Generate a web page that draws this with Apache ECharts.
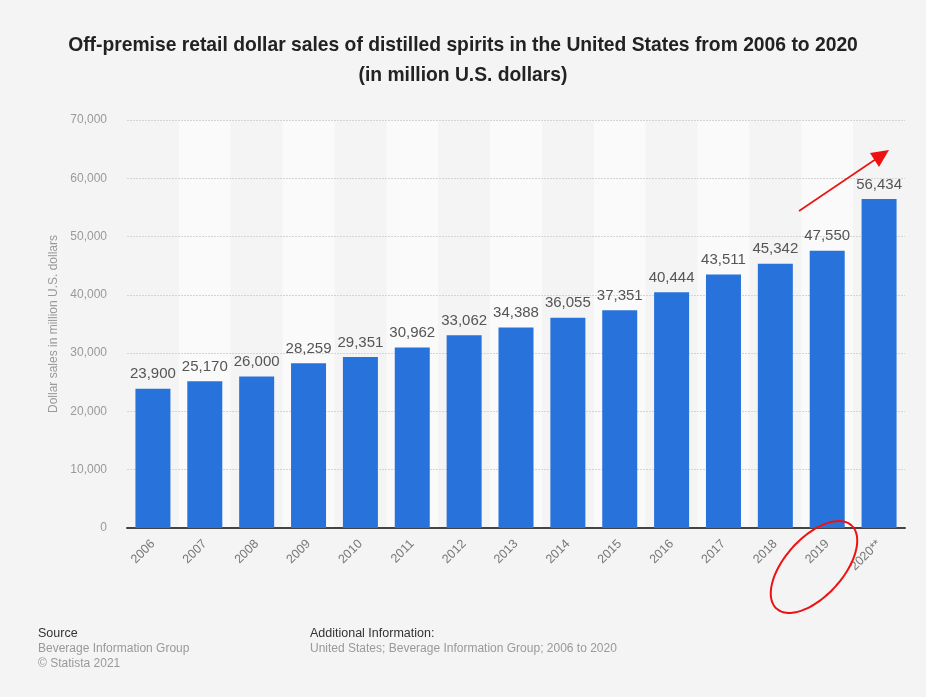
<!DOCTYPE html>
<html>
<head>
<meta charset="utf-8">
<title>Off-premise retail dollar sales of distilled spirits</title>
<script src="https://cdn.jsdelivr.net/npm/echarts@6/dist/echarts.min.js"></script>
<style>
  html, body { margin: 0; padding: 0; background: #f4f4f4; }
  #chart { width: 926px; height: 697px; }
</style>
</head>
<body>
<div id="chart"></div>
<script>
// Years on the category axis
const years = ['2006', '2007', '2008', '2009', '2010', '2011', '2012', '2013',
               '2014', '2015', '2016', '2017', '2018', '2019', '2020**'];
// Off-premise retail dollar sales, million U.S. dollars
const sales = [23900, 25170, 26000, 28259, 29351, 30962, 33062, 34388,
               36055, 37351, 40444, 43511, 45342, 47550, 56434];
// Value axis ticks
const yTicks = [0, 10000, 20000, 30000, 40000, 50000, 60000, 70000];

const fmt = v => v.toLocaleString('en-US');
const FONT = '"Liberation Sans", Arial, Helvetica, sans-serif';

// Outline points for the hand-drawn style ring around the 2019 label
function ringPoints(cx, cy, a, b, angleDeg) {
  const pts = [];
  const t = angleDeg * Math.PI / 180;
  for (let i = 0; i <= 72; i++) {
    const s = i / 72 * Math.PI * 2;
    const u = a * Math.cos(s), v = b * Math.sin(s);
    pts.push([cx + u * Math.cos(t) - v * Math.sin(t), cy + u * Math.sin(t) + v * Math.cos(t)]);
  }
  return pts;
}

const chart = echarts.init(document.getElementById('chart'), null, { renderer: 'canvas' });

chart.setOption({
  backgroundColor: '#f4f4f4',
  animation: false,
  textStyle: { fontFamily: FONT },
  title: {
    text: 'Off-premise retail dollar sales of distilled spirits in the United States from 2006 to 2020\n(in million U.S. dollars)',
    left: 'center',
    top: 26,
    textStyle: { fontSize: 19.3, fontWeight: 'bold', color: '#222', lineHeight: 30, fontFamily: FONT }
  },
  grid: { left: 127, right: 21, top: 120, bottom: 169, containLabel: false },
  xAxis: {
    type: 'category',
    data: years,
    z: 0,
    axisLine: { show: true, lineStyle: { color: '#444', width: 2 } },
    axisTick: { show: false },
    axisLabel: { rotate: 45, color: '#777', fontSize: 12.5, margin: 14, fontFamily: FONT },
    splitArea: { show: true, areaStyle: { color: ['rgba(0,0,0,0)', '#fafafa'] } }
  },
  yAxis: {
    type: 'value',
    z: 1,
    min: yTicks[0],
    max: yTicks[yTicks.length - 1],
    interval: yTicks[1] - yTicks[0],
    name: 'Dollar sales in million U.S. dollars',
    nameLocation: 'middle',
    nameGap: 60,
    nameTextStyle: { color: '#999', fontSize: 12, fontFamily: FONT },
    axisLine: { show: false },
    axisTick: { show: false },
    axisLabel: { color: '#999', fontSize: 12, margin: 20, formatter: v => fmt(v), fontFamily: FONT },
    splitLine: { showMinLine: false, lineStyle: { color: '#d4d4d4', type: [2, 1], width: 1 } }
  },
  series: [{
    type: 'bar',
    data: sales,
    barWidth: 35,
    itemStyle: { color: '#2873db' },
    label: {
      show: true,
      position: 'top',
      distance: 7,
      color: '#555',
      fontSize: 15,
      fontFamily: FONT,
      formatter: p => fmt(p.value)
    },
    z: 3
  }],
  graphic: [
    // Footer: source block
    { type: 'text', left: 38, top: 627, style: { text: 'Source', fill: '#333', font: '12.5px ' + FONT } },
    { type: 'text', left: 38, top: 643, style: { text: 'Beverage Information Group', fill: '#999', font: '12px ' + FONT } },
    { type: 'text', left: 38, top: 658, style: { text: '\u00A9 Statista 2021', fill: '#999', font: '12px ' + FONT } },
    // Footer: additional information block
    { type: 'text', left: 310, top: 627, style: { text: 'Additional Information:', fill: '#333', font: '12.5px ' + FONT } },
    { type: 'text', left: 310, top: 643, style: { text: 'United States; Beverage Information Group; 2006 to 2020', fill: '#999', font: '12px ' + FONT } },
    // Red trend arrow
    { type: 'line', shape: { x1: 799, y1: 211, x2: 876, y2: 159 }, style: { stroke: '#ee1111', lineWidth: 1.6 }, z: 100 },
    { type: 'polygon', shape: { points: [[889, 150], [870, 153], [879, 167]] }, style: { fill: '#ee1111' }, z: 100 },
    // Red ring around the 2019 label
    { type: 'polyline', shape: { points: ringPoints(814, 567, 56, 29, -48), smooth: 0.3 },
      style: { stroke: '#ee1111', lineWidth: 2, fill: null }, z: 100 }
  ]
});
</script>
</body>
</html>
